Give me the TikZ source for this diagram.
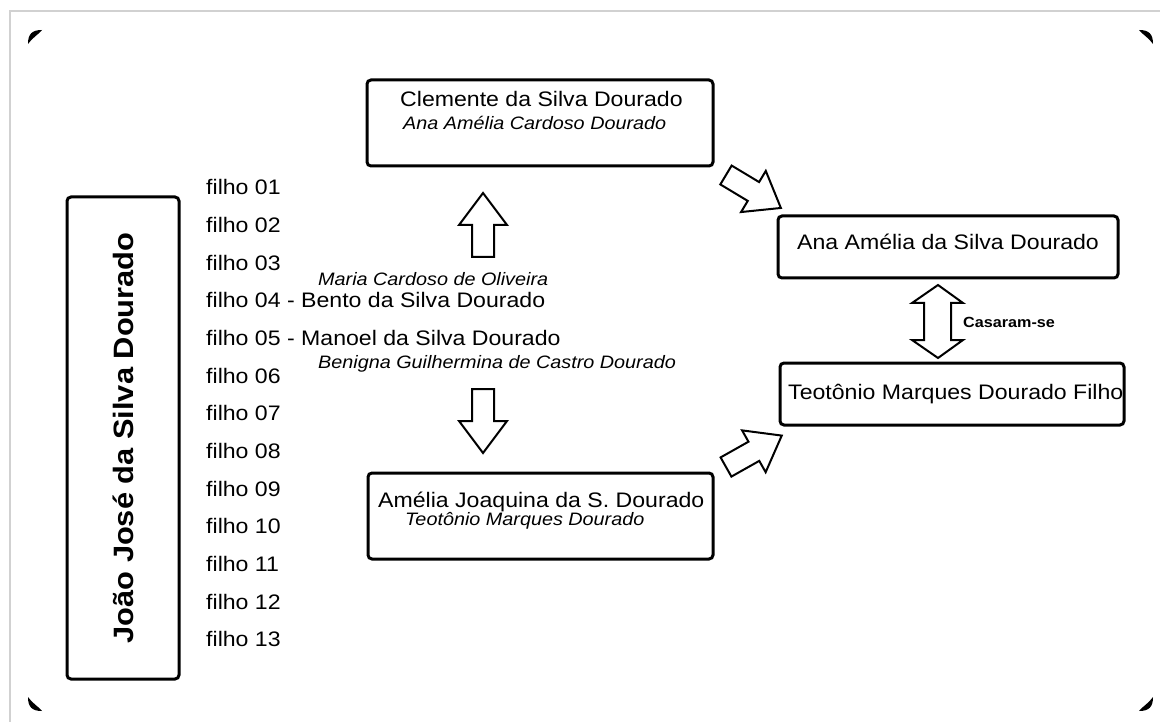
\documentclass[tikz,border=0pt]{standalone}
\usepackage{fontspec}
\setmainfont{Liberation Sans}[FakeStretch=1.1]
\begin{document}
\begin{tikzpicture}[x=1pt,y=-1pt,
  box/.style={draw, line width=3pt, rounded corners=4pt, inner sep=0pt},
  main/.style={inner sep=0pt, font=\fontsize{21}{25}\selectfont},
  ital/.style={inner sep=0pt, font=\fontsize{18}{22}\selectfont\itshape},
  filho/.style={inner sep=0pt, anchor=base west, font=\fontsize{21}{25}\selectfont},
  barrow/.pic={\draw[line width=2pt, fill=white, miter limit=10] (0,-11) -- (32,-11) -- (32,-24) -- (64,0) -- (32,24) -- (32,11) -- (0,11) -- cycle;},
  cmark/.pic={\fill[black] (0,14) .. controls (0,4) and (4,0) .. (14,0) .. controls (11,4) and (4,8) .. (0,14) -- cycle;}
]
\useasboundingbox (0,0) rectangle (1160,722);
\fill[white] (0,0) rectangle (1160,722);
% page frame
\draw[black!18, line width=1.5pt] (10,722) -- (10,11) -- (1160,11);
% corner marks
\pic at (28,30) {cmark};
\pic[xscale=-1] at (1153,30) {cmark};
\pic[yscale=-1] at (28,711) {cmark};
\pic[xscale=-1,yscale=-1] at (1153,711) {cmark};

% boxes
\node[box, minimum width=112, minimum height=482] (joao) at (123,438) {};
\node[box, minimum width=346, minimum height=86] (clem) at (540,123) {};
\node[box, minimum width=345, minimum height=86] (ameliaj) at (540.5,516) {};
\node[box, minimum width=340, minimum height=62] (anaa) at (948,247) {};
\node[box, minimum width=344, minimum height=62] (teo) at (952,394) {};

% vertical name
\node[inner sep=0pt, rotate=90, font=\fontsize{28}{32}\selectfont\bfseries] (joaot) at (joao.center) {João José da Silva Dourado};

% texts in boxes
\node[main, anchor=base west] (clemt) at (400,107) {Clemente da Silva Dourado};
\node[ital, anchor=base west] (clemw) at (403,130) {Ana Amélia Cardoso Dourado};
\node[main, anchor=base west] (ameliat) at (378,507) {Amélia Joaquina da S. Dourado};
\node[ital, anchor=base west] (ameliaw) at (405,525) {Teotônio Marques Dourado};
\node[main, anchor=base] (anaat) at (948,250) {Ana Amélia da Silva Dourado};
\node[main, anchor=base west] (teot) at (788,399) {Teotônio Marques Dourado Filho};
\node[inner sep=0pt, anchor=base west, font=\fontsize{14.7}{17}\selectfont\bfseries] (cas) at (963,327) {Casaram-se};

% filhos
\foreach \k/\t in {1/filho 01,2/filho 02,3/filho 03,4/filho 04 - Bento da Silva Dourado,5/filho 05 - Manoel da Silva Dourado,6/filho 06,7/filho 07,8/filho 08,9/filho 09,10/filho 10,11/filho 11,12/filho 12,13/filho 13}{
  \node[filho] (f\k) at (206,{195+(\k-1)*37.65}) {\t};
}
\node[ital, anchor=base west] (maria) at (318,286) {Maria Cardoso de Oliveira};
\node[ital, anchor=base west] (benigna) at (318,368) {Benigna Guilhermina de Castro Dourado};

% block arrows
\pic[rotate=90] at (483,257) {barrow};
\pic[rotate=-90] at (483,389) {barrow};
\pic[rotate=-31] at (726,175) {barrow};
\pic[rotate=29.4] at (726,467) {barrow};
\draw[line width=2pt, fill=white, miter limit=10] (938,285) -- (963,303) -- (951,303) -- (951,340) -- (963,340) -- (938,358) -- (912,340) -- (924,340) -- (924,303) -- (912,303) -- cycle;
\end{tikzpicture}
\end{document}
